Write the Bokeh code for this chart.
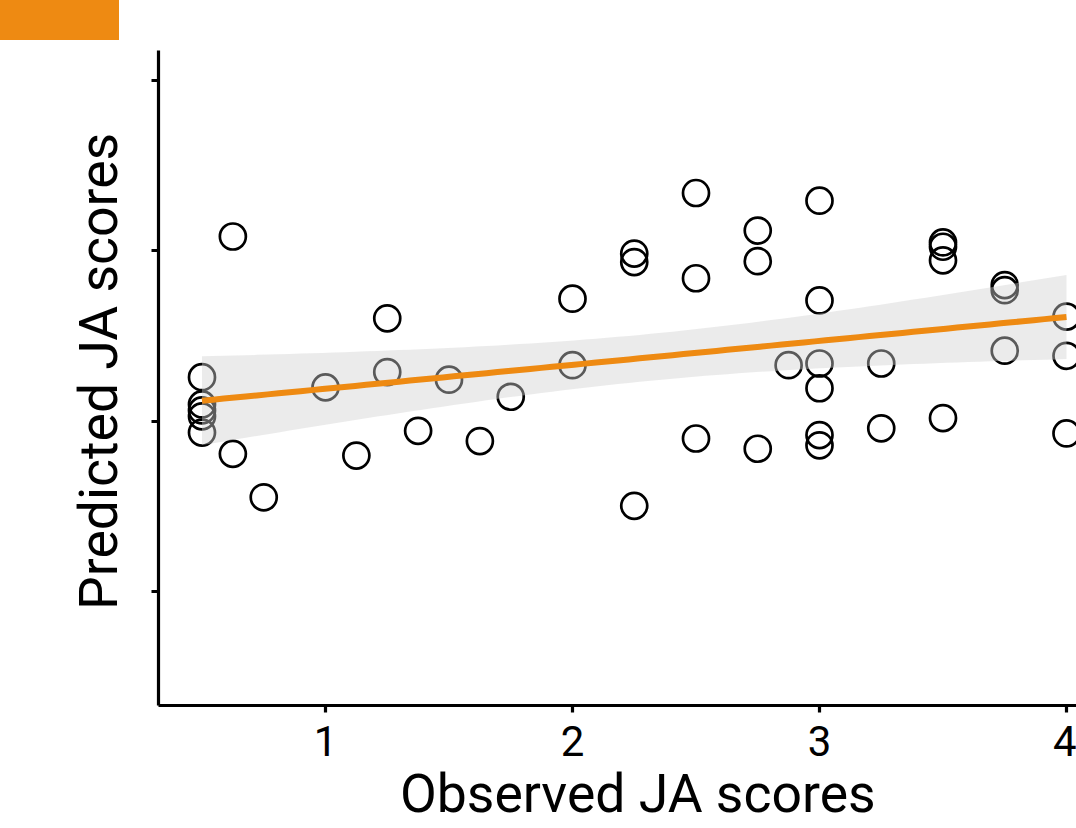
import numpy as np
from bokeh.plotting import figure
from bokeh.models import FixedTicker, Range1d, Div
from bokeh.layouts import column
from bokeh.embed import file_html
from bokeh.resources import INLINE

# Observed vs predicted JA scores
observed = [0.5, 0.5, 0.5, 0.5, 0.5,
            0.625, 0.625, 0.75, 1.0, 1.125,
            1.25, 1.25, 1.375, 1.5, 1.625, 1.75,
            2.0, 2.0, 2.25, 2.25, 2.25,
            2.5, 2.5, 2.5, 2.75, 2.75, 2.75, 2.875,
            3.0, 3.0, 3.0, 3.0, 3.0, 3.0,
            3.25, 3.25, 3.5, 3.5, 3.5, 3.5,
            3.75, 3.75, 3.75, 4.0, 4.0, 4.0]
predicted = [2.26, 2.10, 2.065, 2.03, 1.935,
             3.085, 1.81, 1.555, 2.20, 1.80,
             2.605, 2.29, 1.945, 2.245, 1.885, 2.145,
             2.72, 2.33, 2.985, 2.935, 1.505,
             3.34, 2.84, 1.90, 3.12, 2.94, 1.84, 2.33,
             3.295, 2.71, 2.34, 2.195, 1.92, 1.86,
             2.34, 1.96, 3.05, 3.025, 2.945, 2.02,
             2.80, 2.77, 2.415, 2.615, 2.385, 1.93]
x_ticks = [1, 2, 3, 4]
y_ticks = [1, 2, 3, 4]
x_title = "\u2002\u00a0Observed JA scores"
y_title = "\u00a0Predicted JA scores"

ORANGE = "#EE8A12"

xo = np.array(observed)
yo = np.array(predicted)
n = len(xo)
slope, intercept = np.polyfit(xo, yo, 1)
resid = yo - (slope * xo + intercept)
s = np.sqrt(np.sum(resid ** 2) / (n - 2))
xbar = xo.mean()
sxx = np.sum((xo - xbar) ** 2)
t_crit = 2.014
xs = np.linspace(xo.min(), xo.max(), 80)
fit = slope * xs + intercept
se = s * np.sqrt(1.0 / n + (xs - xbar) ** 2 / sxx)
lower = fit - t_crit * se
upper = fit + t_crit * se

p = figure(width=1076, height=828, output_backend="svg", toolbar_location=None,
           x_range=Range1d(0.3239, 4.0405), y_range=Range1d(0.334, 4.176),
           min_border_left=158, min_border_right=0, min_border_top=50,
           min_border_bottom=123)
p.outline_line_color = None
p.grid.visible = False
p.background_fill_color = "white"

p.scatter(observed, predicted, size=26, marker="circle", fill_color=None,
          line_color="black", line_width=2.7)
p.varea(x=xs, y1=lower, y2=upper, fill_color="#d1d1d1", fill_alpha=0.43)
p.line(xs, fit, line_color=ORANGE, line_width=6)

for ax in (p.xaxis[0], p.yaxis[0]):
    ax.axis_line_width = 3.2
    ax.axis_line_color = "black"
    ax.major_tick_line_width = 3.2
    ax.major_tick_line_color = "black"
    ax.major_tick_out = 7
    ax.major_tick_in = 0
    ax.minor_tick_line_color = None
    ax.axis_label_text_font = "Roboto"
    ax.axis_label_text_font_size = "53.5px"
    ax.axis_label_text_font_style = "normal"
    ax.axis_label_text_color = "black"
    ax.major_label_text_font = "Roboto"
    ax.major_label_text_color = "black"

p.xaxis.ticker = FixedTicker(ticks=x_ticks)
p.yaxis.ticker = FixedTicker(ticks=y_ticks)
p.xaxis.axis_label = x_title
p.yaxis.axis_label = y_title
p.xaxis.major_label_text_font_size = "42px"
p.xaxis.major_label_standoff = 13
p.xaxis.axis_label_standoff = 3
p.yaxis.major_label_text_font_size = "0px"
p.yaxis.major_label_standoff = 0
p.yaxis.axis_label_standoff = 22

badge = Div(text="", width=119, height=40,
            styles={"position": "absolute", "left": "-5px", "top": "-5px",
                    "background-color": ORANGE, "z-index": "10"})

layout = column(p, badge)
open("out.html", "w").write(file_html(layout, INLINE))
